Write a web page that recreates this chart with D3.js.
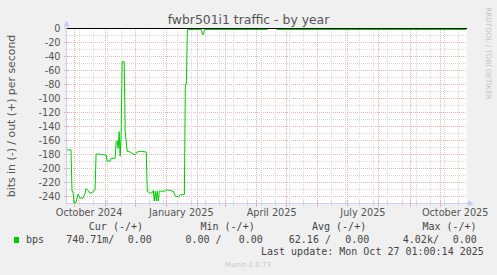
<!DOCTYPE html>
<html lang="en">
<head>
	<meta charset="UTF-8">
	<script src="https://d3js.org/d3.v7.min.js"></script>
	<title>fwbr501i1 traffic - by year</title>
	<style type="text/css">
		body{ margin: 0; background: #f0f0f0; }
		svg{ display: block; }
		text{ font-family: "DejaVu Sans", sans-serif; fill: #555; }
		.mono{ font-family: "DejaVu Sans Mono", monospace; font-size: 10px; fill: #444; white-space: pre; }
	</style>
</head>
<body>
<svg width="497" height="275"></svg>
<script>
// values (bits in, drawn negative)
var inDates = ["2024-09-24","2024-09-28","2024-09-29","2024-09-30","2024-10-01","2024-10-03","2024-10-05","2024-10-07",
	"2024-10-10","2024-10-12","2024-10-13","2024-10-15","2024-10-17","2024-10-20","2024-10-22","2024-10-23","2024-10-27",
	"2024-10-30","2024-11-02","2024-11-03","2024-11-06","2024-11-07","2024-11-11","2024-11-12","2024-11-13","2024-11-14",
	"2024-11-15","2024-11-16","2024-11-17","2024-11-18","2024-11-20","2024-11-21","2024-11-23","2024-11-26","2024-11-29",
	"2024-12-01","2024-12-03","2024-12-06","2024-12-12","2024-12-13","2024-12-16","2024-12-18","2024-12-19","2024-12-20",
	"2024-12-21","2024-12-22","2024-12-23","2024-12-24","2024-12-25","2024-12-27","2024-12-30","2025-01-02","2025-01-05",
	"2025-01-08","2025-01-10","2025-01-13","2025-01-15","2025-01-19","2025-01-20","2025-01-21","2025-01-22","2025-02-05",
	"2025-02-06","2025-02-07","2025-02-08","2025-04-12","2025-04-13","2025-04-20","2025-04-21","2025-10-27"];
var inValues = [-172,-172,-231,-232,-248,-247,-235,-241,
	-241,-234,-227,-230,-234,-232,-228,-178,-178,
	-179,-179,-188,-188,-184,-184,-160,-159,-170,
	-146,-181,-150,-46,-46,-146,-174,-175,-178,
	-179,-175,-174,-175,-231,-234,-233,-230,-245,
	-231,-245,-231,-245,-231,-231,-231,-229,-230,
	-231,-238,-239,-236,-236,-78,-78,0,0,
	-7,-7,0,0,null,null,0,0];

var yTicks = [0,-20,-40,-60,-80,-100,-120,-140,-160,-180,-200,-220,-240];
var monthLabels = ["October 2024","January 2025","April 2025","July 2025","October 2025"];
var monthLabelDates = ["2024-10-16","2025-01-16","2025-04-16","2025-07-16","2025-10-16"];

var legendHeads = ["Cur (-/+)","Min (-/+)","Avg (-/+)","Max (-/+)"];
var legendIn = ["740.71m/","0.00 /","62.16 /","4.02k/"];
var legendOut = ["0.00","0.00","0.00","0.00"];

var parse = d3.utcParse("%Y-%m-%d");
var svg = d3.select("svg");

var x = d3.scaleUtc()
	.domain([new Date(Date.UTC(2024,8,24)), new Date(Date.UTC(2025,9,27,19))])
	.range([67, 467]);
var y = d3.scaleLinear().domain([-250, 0]).range([203.5, 28.5]);
function px(d){ return Math.floor(x(d)) + 0.5; }

var RED = "#efb0b0", GREY = "#dadada";

// plot canvas
svg.append("rect").attr("x", 67).attr("y", 28).attr("width", 400).attr("height", 175).attr("fill", "#fff");

var grid = svg.append("g");
// horizontal grid: minor every 10, major every 20
d3.range(-250, 1, 10).forEach(function(v){
	var major = v % 20 == 0;
	grid.append("line").attr("x1", 67).attr("x2", 467).attr("y1", y(v)).attr("y2", y(v))
		.attr("stroke", major ? RED : GREY).attr("stroke-dasharray", "1,1");
	grid.append("line").attr("x1", major ? 64 : 65).attr("x2", major ? 69 : 68).attr("y1", y(v)).attr("y2", y(v))
		.attr("stroke", major ? RED : GREY);
});
// vertical grid: minor every two weeks, major every month
var minor = d3.utcDay.range(new Date(Date.UTC(2024,9,6)), x.domain()[1], 14);
var major = d3.utcMonth.range(new Date(Date.UTC(2024,9,1)), x.domain()[1]);
minor.forEach(function(d){
	grid.append("line").attr("x1", px(d)).attr("x2", px(d)).attr("y1", 28).attr("y2", 203)
		.attr("stroke", GREY).attr("stroke-dasharray", "1,1");
	grid.append("line").attr("x1", px(d)).attr("x2", px(d)).attr("y1", 201).attr("y2", 206).attr("stroke", GREY);
});
major.forEach(function(d){
	grid.append("line").attr("x1", px(d)).attr("x2", px(d)).attr("y1", 28).attr("y2", 203)
		.attr("stroke", RED).attr("stroke-dasharray", "1,1");
	grid.append("line").attr("x1", px(d)).attr("x2", px(d)).attr("y1", 200).attr("y2", 207).attr("stroke", RED);
});

// axes
svg.append("line").attr("x1", 66.5).attr("x2", 66.5).attr("y1", 204).attr("y2", 22).attr("stroke", "#c9cff5");
svg.append("path").attr("d", "M63.5,26.5L69.5,26.5L66.5,20.5Z").attr("fill", "#c4cbf7");
svg.append("line").attr("x1", 66).attr("x2", 470).attr("y1", 203.5).attr("y2", 203.5).attr("stroke", "#c9cff5");
svg.append("path").attr("d", "M468,200.5L468,206.5L474,203.5Z").attr("fill", "#c4cbf7");

// zero rule
svg.append("line").attr("x1", 67).attr("x2", 467).attr("y1", y(0)).attr("y2", y(0)).attr("stroke", "#000");

// data line
var data = inDates.map(function(d, i){ return {date: parse(d), value: inValues[i]}; });
var line = d3.line()
	.defined(function(d){ return d.value !== null; })
	.x(function(d){ return x(d.date); })
	.y(function(d){ return y(d.value) + 1; });
svg.append("path").datum(data).attr("d", line)
	.attr("fill", "none").attr("stroke", "#00cc00").attr("stroke-width", 1);

// y tick labels
svg.append("g").selectAll("text").data(yTicks).enter().append("text")
	.attr("x", 60.5).attr("y", function(d){ return y(d) + 3.5; })
	.attr("text-anchor", "end").attr("font-size", "9.7px")
	.text(function(d){ return d; });

// x labels
svg.append("g").selectAll("text").data(monthLabels).enter().append("text")
	.attr("x", function(d, i){ return x(parse(monthLabelDates[i])); }).attr("y", 216)
	.attr("text-anchor", "middle").attr("font-size", "9.7px")
	.text(function(d){ return d; });

// title and axis label
svg.append("text").attr("x", 248.5).attr("y", 24).attr("text-anchor", "middle")
	.attr("font-size", "12.4px").text("fwbr501i1 traffic - by year");
svg.append("text").attr("transform", "translate(15,116) rotate(-90)").attr("text-anchor", "middle")
	.attr("font-size", "10.9px").text("bits in (-) / out (+) per second");
svg.append("text").attr("transform", "translate(485.5,53.5) rotate(90)").attr("text-anchor", "middle")
	.attr("font-size", "7.2px").style("fill", "#c4c4c4").text("RRDTOOL / TOBI OETIKER");

// legend
var headX = [88.8, 200.5, 312, 422.4];
var inX = [66.2, 185.5, 288.8, 402.8];
var outX = [127.8, 238.8, 345.2, 452.8];
svg.append("rect").attr("x", 14).attr("y", 237).attr("width", 5).attr("height", 6).attr("fill", "#00cc00");
svg.append("text").attr("class", "mono").attr("x", 26).attr("y", 242.5).text("bps");
legendHeads.forEach(function(t, i){
	svg.append("text").attr("class", "mono").attr("x", headX[i]).attr("y", 229.5).text(t);
	svg.append("text").attr("class", "mono").attr("x", inX[i]).attr("y", 242.5).text(legendIn[i]);
	svg.append("text").attr("class", "mono").attr("x", outX[i]).attr("y", 242.5).text(legendOut[i]);
});
svg.append("text").attr("class", "mono").attr("x", 261).attr("y", 254.5).text("Last update: Mon Oct 27 01:00:14 2025");
svg.append("text").attr("x", 248).attr("y", 266.5).attr("text-anchor", "middle")
	.attr("font-size", "7px").style("fill", "#c8c8c8").text("Munin 2.0.73");
</script>
</body>
</html>
